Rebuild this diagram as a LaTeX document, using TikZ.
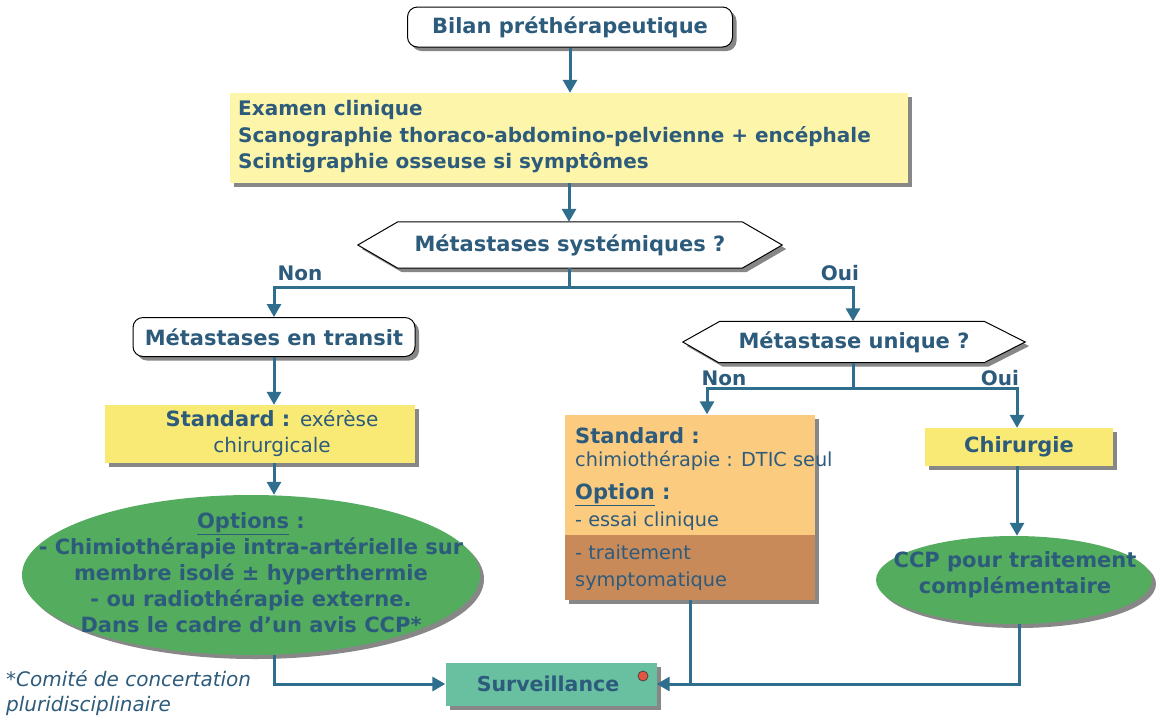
\documentclass[tikz,border=0pt]{standalone}
\usepackage{fontspec}
\setmainfont{DejaVu Sans}
\usetikzlibrary{arrows.meta,shadows,shapes.geometric}
\definecolor{txt}{RGB}{45,91,124}
\definecolor{lnc}{RGB}{48,110,142}
\definecolor{paleyel}{RGB}{252,245,170}
\definecolor{yel}{RGB}{249,234,117}
\definecolor{grn}{RGB}{84,172,94}
\definecolor{teal}{RGB}{104,192,160}
\definecolor{org}{RGB}{251,203,128}
\definecolor{brn}{RGB}{201,138,90}
\definecolor{shd}{RGB}{135,135,135}
\definecolor{reddot}{RGB}{228,84,64}
\newcommand\hdfont{\fontsize{21}{26}\selectfont\bfseries}
\newcommand\rgfont{\fontsize{19.3}{26}\selectfont\mdseries}
\tikzset{
  shdw/.style={drop shadow={shadow xshift=4pt, shadow yshift=-4pt, fill=shd, opacity=1}},
  base/.style={text=txt, inner sep=0pt, font=\hdfont, shdw},
  roundbox/.style={base, rectangle, rounded corners=10pt, draw=black, line width=1pt, fill=white},
  ybox/.style={base, rectangle, fill=#1},
  hexT/.style={text=txt, inner sep=0pt, font=\hdfont, rectangle},
  hexline/.style={draw=black, line width=1pt, fill=white, shdw},
  oval/.style={base, ellipse, fill=grn},
  ovalT/.style={text=txt, inner sep=0pt, font=\hdfont, align=center},
  lbl/.style={text=txt, font=\fontsize{20}{24}\selectfont\bfseries, inner sep=0pt},
  ln/.style={draw=lnc, line width=3pt},
  arr/.style={ln, -{Triangle[width=14pt,length=13pt]}},
}
\begin{document}
\begin{tikzpicture}[x=1pt,y=-1pt]
\useasboundingbox (0,0) rectangle (1158,716);
\fill[white] (0,0) rectangle (1158,716);

\node[roundbox, minimum width=325pt, minimum height=40pt] (bilan) at (570,27) {Bilan préthérapeutique};

\node[ybox=paleyel, minimum width=678pt, minimum height=90pt] (exam) at (569,138) {};
\node[text=txt, inner sep=0pt, anchor=west, align=left, font=\fontsize{20}{26.5}\selectfont\bfseries] (examT) at (238,137)
  {Examen clinique\\ Scanographie thoraco-abdomino-pelvienne + encéphale\\ Scintigraphie osseuse si symptômes};

% hexagon 1
\node[hexT, minimum width=424pt, minimum height=46pt] (q1) at (570,245) {};
\filldraw[hexline] (q1.west) -- ([xshift=40pt]q1.north west) -- ([xshift=-40pt]q1.north east) -- (q1.east)
  -- ([xshift=-40pt]q1.south east) -- ([xshift=40pt]q1.south west) -- cycle;
\node[hexT] (q1T) at (q1.center) {Métastases systémiques ?};

\node[roundbox, minimum width=282pt, minimum height=39pt] (transit) at (274,337) {Métastases en transit};

\node[ybox=yel, minimum width=310pt, minimum height=58pt] (std) at (260,434) {};
\node[text=txt, inner sep=0pt, align=center, font=\hdfont] (stdT) at (272,434)
  {Standard : {\fontsize{20}{26}\selectfont\mdseries exérèse}\\ {\fontsize{20}{26}\selectfont\mdseries chirurgicale}};

\node[oval, minimum width=458pt, minimum height=160pt] (opts) at (251,575) {};
\node[ovalT] (optsT) at (251,573)
  {\underline{Options} :\\ - Chimiothérapie intra-artérielle sur\\ membre isolé ± hyperthermie\\ - ou radiothérapie externe.\\ Dans le cadre d'un avis CCP*};

% hexagon 2
\node[hexT, minimum width=342pt, minimum height=41pt] (q2) at (854,342) {};
\filldraw[hexline] (q2.west) -- ([xshift=37pt]q2.north west) -- ([xshift=-41pt]q2.north east) -- (q2.east)
  -- ([xshift=-41pt]q2.south east) -- ([xshift=36pt]q2.south west) -- cycle;
\node[hexT] (q2T) at (q2.center) {Métastase unique ?};

\node[ybox=org, minimum width=250pt, minimum height=185pt,
  path picture={\fill[brn] ([yshift=65pt]path picture bounding box.south west) rectangle (path picture bounding box.south east);}]
  (orange) at (690,507) {};
\node[text=txt, inner sep=0pt, anchor=west, align=left, font=\hdfont] (orangeT) at (575,509)
  {Standard :\\[-3pt] {\rgfont chimiothérapie : DTIC seul}\\[7pt] \underline{Option} :\\[1pt] {\rgfont - essai clinique}\\[7pt] {\rgfont - traitement}\\[1pt] {\rgfont symptomatique}};

\node[ybox=yel, minimum width=188pt, minimum height=38pt] (chir) at (1019,447) {Chirurgie};

\node[oval, minimum width=276pt, minimum height=88pt] (ccp) at (1014,580) {};
\node[ovalT] (ccpT) at (1015,575) {CCP pour traitement\\ complémentaire};

\node[ybox=teal, minimum width=211pt, minimum height=43pt] (surv) at (551,684) {};
\node[text=txt, inner sep=0pt, font=\fontsize{20.5}{24}\selectfont\bfseries] (survT) at (548,684) {Surveillance};
\node[circle, fill=reddot, draw=black!75, line width=0.7pt, minimum size=10pt, inner sep=0pt] (dot) at (643,676) {};

\node[text=txt, anchor=north west, align=left, inner sep=0pt, font=\fontsize{20}{25}\selectfont\itshape] (note) at (6,670)
  {*Comité de concertation\\ pluridisciplinaire};

\node[lbl] (non1) at (300,273) {Non};
\node[lbl] (oui1) at (840,273) {Oui};
\node[lbl] (non2) at (724,378) {Non};
\node[lbl] (oui2) at (1000,378) {Oui};

\coordinate (j1) at (569,287);
\coordinate (j2) at (853,388);

\draw[arr] (bilan.south) -- (bilan.south |- exam.north);
\draw[arr] (exam.south) -- (q1.north -| exam.south);
\draw[ln] (q1.south -| j1) -- (j1);
\draw[arr] (j1) -| (transit.north);
\draw[arr] (j1) -| (q2.north -| j2);
\draw[arr] (transit.south) -- (transit.south |- std.north);
\draw[arr] (transit.south |- std.south) -- (transit.south |- opts.north);
\draw[ln] (q2.south -| j2) -- (j2);
\draw[arr] (j2) -| ([xshift=17pt]orange.north);
\draw[arr] (j2) -| ([xshift=-2pt]chir.north);
\draw[arr] ([xshift=-2pt]chir.south) -- ([xshift=-2pt]chir.south |- ccp.north);
\draw[arr] (ccp.south -| chir.south) |- (surv.east);
\draw[ln] (orange.south) -- (orange.south |- surv.east);
\draw[arr] (opts.south -| transit.south) |- (surv.west);
\end{tikzpicture}
\end{document}
